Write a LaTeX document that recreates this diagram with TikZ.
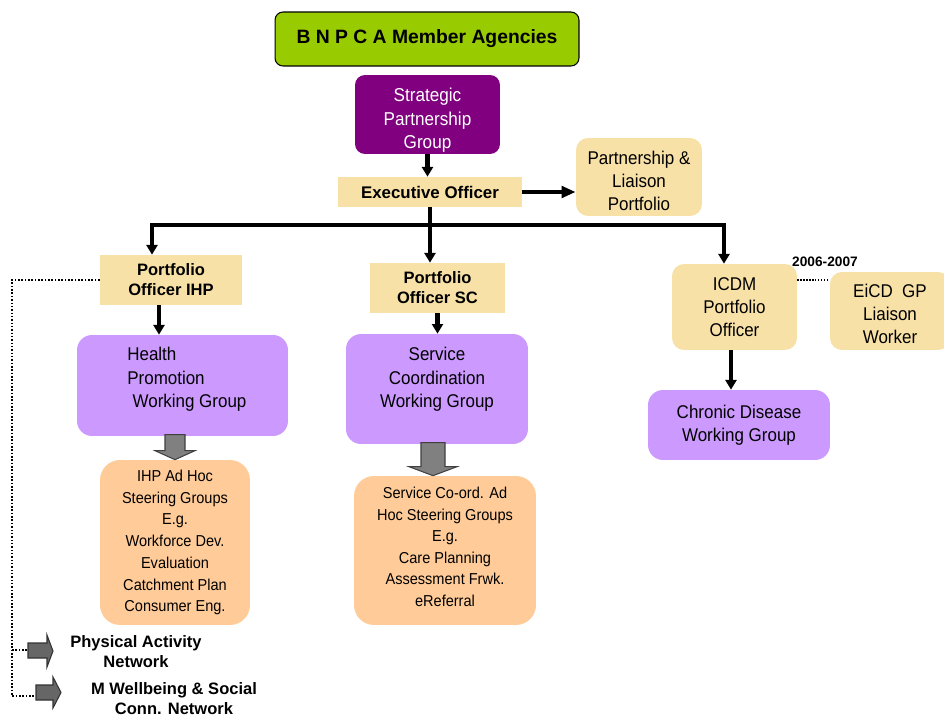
\documentclass[tikz,border=0pt]{standalone}
\usepackage{fontspec}
\setmainfont{Liberation Sans}
\newfontfamily\narrowsf[FakeStretch=0.92]{Liberation Sans}
\usetikzlibrary{arrows.meta}
\definecolor{agency}{HTML}{99CC00}
\definecolor{spgpurple}{HTML}{800080}
\definecolor{officer}{HTML}{F7E1A7}
\definecolor{wgroup}{HTML}{CC99FF}
\definecolor{adhoc}{HTML}{FFCC99}
\tikzset{
  officerbox/.style={fill=officer, inner sep=0pt, align=center,
    font=\bfseries\fontsize{9.4}{11.3}\selectfont},
  portfolio/.style={fill=officer, rounded corners=0.24cm, inner sep=0pt, align=center,
    font=\narrowsf\fontsize{10.5}{13}\selectfont},
  wgbox/.style={fill=wgroup, rounded corners=0.3cm, inner sep=0pt,
    font=\narrowsf\fontsize{10.5}{13.3}\selectfont},
  adhocbox/.style={fill=adhoc, rounded corners=0.4cm, inner sep=0pt, align=center,
    font=\narrowsf\fontsize{9}{12.4}\selectfont},
  netlabel/.style={align=center, font=\bfseries\fontsize{9.4}{11.3}\selectfont},
  link/.style={line width=2.3pt, -{Triangle[length=5.5pt,width=6.2pt]}},
  dotline/.style={densely dotted, line width=0.9pt},
  blockarr/.style={fill=black!50, draw=black!75, line width=0.6pt},
  sidearr/.style={fill=black!60, draw=black!80, line width=0.6pt}
}
\begin{document}
\begin{tikzpicture}[x=0.02cm, y=-0.02cm]
  \useasboundingbox (0,0) rectangle (944,717);

  \node[draw, fill=agency, rounded corners=0.16cm, line width=0.6pt,
    minimum width=6.08cm, minimum height=1.08cm,
    font=\bfseries\fontsize{11}{13}\selectfont] (bnpca) at (427,39) {B N P C A Member Agencies};
  \node[fill=spgpurple, text=white, rounded corners=0.2cm, align=center, inner sep=0pt,
    minimum width=2.9cm, minimum height=1.58cm,
    font=\narrowsf\fontsize{10.6}{13.3}\selectfont] (spg) at (427.5,114.5) {\mbox{}\\[1.1pt]Strategic\\Partnership\\Group};
  \node[officerbox, minimum width=3.68cm, minimum height=0.6cm,
    font=\bfseries\fontsize{9.6}{11}\selectfont] (exec) at (430,192) {Executive Officer};
  \node[portfolio, minimum width=2.52cm, minimum height=1.56cm] (plp) at (639,177) {\mbox{}\\[-1pt]Partnership \&\\Liaison\\Portfolio};

  \node[officerbox, minimum width=2.84cm, minimum height=1cm] (poihp) at (171,280) {Portfolio\\Officer IHP};
  \node[officerbox, minimum width=2.7cm, minimum height=1cm] (posc) at (437.5,288) {Portfolio\\Officer SC};
  \node[portfolio, minimum width=2.5cm, minimum height=1.72cm] (icdm) at (734.5,307) {ICDM\\Portfolio\\Officer};
  \node[portfolio, minimum width=2.4cm, minimum height=1.56cm] (eicd) at (890,311) {\mbox{}\\[-2pt]EiCD\ \ GP\\Liaison\\Worker};
  \node[font=\bfseries\fontsize{7.8}{9}\selectfont] (yr) at (825,262) {2006-2007};

  \node[wgbox, align=left, minimum width=4.22cm, minimum height=2.02cm] (hpwg) at (182.5,385.5)
    {\hspace*{5pt}Health\\\hspace*{5pt}Promotion\\\hspace*{8pt}Working Group\\[-4pt]\mbox{}};
  \node[wgbox, align=center, minimum width=3.64cm, minimum height=2.2cm] (scwg) at (437,389)
    {Service\\Coordination\\Working Group\\\mbox{}};
  \node[wgbox, align=center, minimum width=3.64cm, minimum height=1.4cm] (cdwg) at (739,425)
    {Chronic Disease\\Working Group};

  \node[adhocbox, minimum width=3cm, minimum height=3.3cm] (ihpah) at (175,542.5)
    {IHP Ad Hoc\\Steering Groups\\E.g.\\Workforce Dev.\\Evaluation\\Catchment Plan\\Consumer Eng.};
  \node[adhocbox, minimum width=3.64cm, minimum height=2.98cm,
    font=\narrowsf\fontsize{9}{12.2}\selectfont] (scah) at (445,550.5)
    {Service Co-ord. Ad\\Hoc Steering Groups\\E.g.\\Care Planning\\Assessment Frwk.\\eReferral\\[-8pt]\mbox{}};

  \node[netlabel] (pan) at (136,652) {Physical Activity\\Network};
  \node[netlabel] (mwn) at (174,699) {M Wellbeing \& Social\\Conn. Network};

  % top of the chart
  \draw[link] (spg.south) -- (spg.south |- exec.north);
  \draw[line width=2.6pt, -{Triangle[length=8pt,width=6.5pt]}] (exec.east) -- (exec.east -| plp.west);
  \draw[link] (exec.south) -- (exec.south |- posc.north);

  \coordinate (barl) at (152,225);
  \coordinate (barr) at (724,225);
  \draw[line width=2.4pt, line cap=rect] (barl) -- (barr);
  \draw[link] (barl) -- (barl |- poihp.north);
  \draw[link] (barr) -- (barr |- icdm.north);

  % officers to working groups
  \draw[link] ([xshift=-0.24cm]poihp.south) -- ([xshift=-0.24cm]poihp.south |- hpwg.north);
  \draw[link] (posc.south) -- (posc.south |- scwg.north);
  \draw[link] ([xshift=-0.07cm]icdm.south) -- ([xshift=-0.07cm]icdm.south |- cdwg.north);
  \draw[dotline, line width=0.7pt] ([yshift=0.54cm]icdm.east) -- ([yshift=0.54cm]icdm.east -| eicd.west);

  % block arrows
  \draw[blockarr] (ihpah.north) -- ++(-20,-9) -- ++(10,0) -- ++(0,-16) -- ++(20,0)
    -- ++(0,16) -- ++(10,0) -- cycle;
  \draw[blockarr] ([xshift=-0.24cm]scah.north) -- ++(-24,-9) -- ++(12,0) -- ++(0,-24) -- ++(24,0)
    -- ++(0,24) -- ++(12,0) -- cycle;

  % networks
  \coordinate (trunk) at (12,0);
  \coordinate (pa) at (28,650);
  \coordinate (mw) at (36,696);
  \draw[dotline] (poihp.west) -- (poihp.west -| trunk) |- (mw);
  \draw[dotline] (trunk |- pa) -- (pa);
  \draw[sidearr] (pa) -- ++(0,8) -- ++(19,0) -- ++(0,9) -- ++(6,-16) -- ++(-6,-16)
    -- ++(0,8) -- ++(-19,0) -- cycle;
  \draw[sidearr] (mw) -- ++(0,4) -- ++(17,0) -- ++(0,8) -- ++(8,-15.5) -- ++(-8,-15.5)
    -- ++(0,8) -- ++(-17,0) -- cycle;
\end{tikzpicture}
\end{document}
